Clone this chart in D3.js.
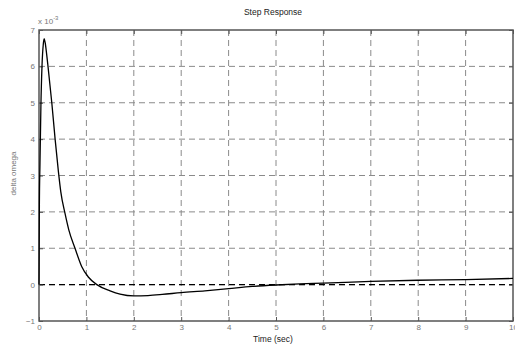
<!DOCTYPE html>
<html>
<head>
<meta charset="utf-8">
<script src="https://d3js.org/d3.v7.min.js"></script>
<style>
  body { margin: 0; background: #fff; }
  text { font-family: "Liberation Sans", Arial, sans-serif; }
</style>
</head>
<body>
<div id="chart"></div>
<script>
// plot box in page pixels
var margin = {top: 30, right: 2, bottom: 27, left: 39},
    width = 515 - margin.left - margin.right,
    height = 348 - margin.top - margin.bottom;

// step response (values in units of 1e-3)
var timeSec = [0, 0.008, 0.02, 0.04, 0.063, 0.09, 0.11, 0.13, 0.16, 0.19, 0.27, 0.34, 0.41, 0.46,
  0.55, 0.63, 0.76, 0.9, 1.04, 1.22, 1.5, 1.71, 2.0, 2.3, 2.6,
  3.0, 3.5, 4.0, 4.5, 5.0, 5.5, 6.0, 7.0, 8.0, 9.0, 10.0];
var deltaOmega = [0, 2.2, 3.3, 4.9, 6.0, 6.6, 6.76, 6.65, 6.35, 6.0, 5.0, 4.0, 3.1, 2.55,
  1.95, 1.5, 1.0, 0.5, 0.21, 0.0, -0.17, -0.26, -0.31, -0.3, -0.27,
  -0.22, -0.17, -0.11, -0.05, -0.01, 0.02, 0.04, 0.09, 0.12, 0.14, 0.17];

var xTicks = [0, 1, 2, 3, 4, 5, 6, 7, 8, 9, 10];
var yTicks = [-1, 0, 1, 2, 3, 4, 5, 6, 7];

var svg = d3.select("#chart")
  .append("svg")
  .attr("width", 515)
  .attr("height", 348);

var g = svg.append("g")
  .attr("transform", "translate(" + margin.left + "," + margin.top + ")");

var x = d3.scaleLinear().domain([0, 10]).range([0, width]);
var y = d3.scaleLinear().domain([-1, 7]).range([height, 0]);

// grid
g.selectAll(".vgrid")
  .data(xTicks.slice(1, -1))
  .enter().append("line")
  .attr("x1", function(d) { return x(d); })
  .attr("x2", function(d) { return x(d); })
  .attr("y1", 0).attr("y2", height)
  .attr("stroke", "#8a8a8a")
  .attr("stroke-width", 1)
  .attr("stroke-dasharray", "6,4");

g.selectAll(".hgrid")
  .data(yTicks.slice(1, -1))
  .enter().append("line")
  .attr("x1", 0).attr("x2", width)
  .attr("y1", function(d) { return y(d); })
  .attr("y2", function(d) { return y(d); })
  .attr("stroke", "#8a8a8a")
  .attr("stroke-width", 1)
  .attr("stroke-dasharray", "6,4");

// zero reference line
g.append("line")
  .attr("x1", 0).attr("x2", width)
  .attr("y1", y(0)).attr("y2", y(0))
  .attr("stroke", "#000")
  .attr("stroke-width", 1.2)
  .attr("stroke-dasharray", "6,4");

// axes: inward ticks on all sides
var xAxis = d3.axisBottom(x).tickValues(xTicks).tickSizeInner(-4).tickSizeOuter(0).tickPadding(3);
var yAxis = d3.axisLeft(y).tickValues(yTicks).tickSizeInner(-4).tickSizeOuter(0).tickPadding(4);

function styleAxis(sel) {
  sel.select(".domain").remove();
  sel.selectAll(".tick line").attr("stroke", "#555");
  sel.selectAll("text").attr("fill", "#777").style("font-size", "8px");
}

g.append("g").attr("transform", "translate(0," + height + ")").call(xAxis).call(styleAxis);
g.append("g").call(yAxis).call(styleAxis);
g.append("g").call(d3.axisTop(x).tickValues(xTicks).tickSizeInner(-4).tickSizeOuter(0).tickFormat(""))
  .call(styleAxis);
g.append("g").attr("transform", "translate(" + width + ",0)")
  .call(d3.axisRight(y).tickValues(yTicks).tickSizeInner(-4).tickSizeOuter(0).tickFormat(""))
  .call(styleAxis);

// box
g.append("rect")
  .attr("width", width).attr("height", height)
  .attr("fill", "none")
  .attr("stroke", "#555")
  .attr("stroke-width", 1.5);

// response curve
var line = d3.line()
  .x(function(d, i) { return x(timeSec[i]); })
  .y(function(d) { return y(d); })
  .curve(d3.curveMonotoneX);

g.append("path")
  .datum(deltaOmega)
  .attr("d", line)
  .attr("fill", "none")
  .attr("stroke", "#000")
  .attr("stroke-width", 1.3);

// exponent label
var expo = svg.append("text")
  .attr("x", margin.left - 1)
  .attr("y", margin.top - 6)
  .attr("fill", "#777")
  .style("font-size", "8px")
  .text("x 10");
expo.append("tspan")
  .attr("dy", -4)
  .style("font-size", "6px")
  .text("-3");

// title
svg.append("text")
  .attr("x", margin.left + width / 2 - 3)
  .attr("y", 15)
  .attr("text-anchor", "middle")
  .attr("fill", "#222")
  .style("font-size", "8.5px")
  .text("Step Response");

// x label
svg.append("text")
  .attr("x", margin.left + width / 2 - 3)
  .attr("y", 342)
  .attr("text-anchor", "middle")
  .attr("fill", "#222")
  .style("font-size", "8.5px")
  .text("Time (sec)");

// y label
svg.append("text")
  .attr("transform", "translate(16," + (margin.top + height / 2 - 2) + ") rotate(-90)")
  .attr("text-anchor", "middle")
  .attr("fill", "#777")
  .style("font-size", "8px")
  .text("delta omega");
</script>
</body>
</html>
